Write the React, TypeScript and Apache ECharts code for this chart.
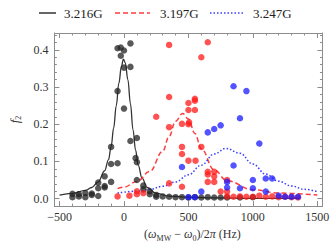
import React, { useEffect, useRef } from "react";
import * as echarts from "echarts";

// ---- data ----
const legendNames = ["3.216G", "3.197G", "3.247G"];

const pts3216: [number, number][] = [
  [-400, 0.013], [-400, 0.004], [-350, 0.012], [-350, 0.006], [-300, 0.015], [-300, 0.004],
  [-250, 0.014], [-250, 0.01], [-200, 0.043], [-200, 0.028], [-200, 0.007], [-150, 0.06],
  [-150, 0.034], [-150, 0.03], [-100, 0.139], [-100, 0.093], [-100, 0.045], [-50, 0.289],
  [-50, 0.404], [-50, 0.095], [-25, 0.406], [-25, 0.384], [0, 0.398], [0, 0.352], [0, 0.242],
  [50, 0.417], [50, 0.354], [50, 0.155], [100, 0.163], [90, 0.109], [100, 0.098], [100, 0.05],
  [150, 0.035], [150, 0.025], [200, 0.02], [200, 0.012], [250, 0.01], [250, 0.005], [300, 0.006],
  [350, 0.005], [400, 0.004], [450, 0.004], [500, 0.003], [550, 0.004], [600, 0.003], [650, 0.004],
  [700, 0.003], [750, 0.003], [800, 0.003], [900, 0.003], [1000, 0.004],
];

const pts3197: [number, number][] = [
  [-50, 0.006], [42, 0.008], [100, 0.012], [100, 0.02], [150, 0.015], [250, 0.22], [350, 0.413],
  [350, 0.273], [350, 0.192], [350, 0.041], [450, 0.201], [450, 0.139], [450, 0.12], [450, 0.032],
  [500, 0.257], [500, 0.238], [500, 0.2], [505, 0.205], [500, 0.102], [550, 0.268], [550, 0.263],
  [550, 0.238], [555, 0.102], [600, 0.38], [600, 0.139], [650, 0.42], [650, 0.072], [650, 0.065],
  [650, 0.045], [700, 0.072], [700, 0.06], [700, 0.045], [750, 0.019], [800, 0.05], [800, 0.019],
  [800, 0.006], [850, 0.005], [900, 0.006], [950, 0.005], [1000, 0.005], [1050, 0.008],
  [1100, 0.005], [1150, 0.006], [1200, 0.004], [1250, 0.005], [1300, 0.004], [1350, 0.003],
];

const pts3247: [number, number][] = [
  [450, 0.085], [500, 0.004], [550, 0.004], [600, 0.019], [650, 0.178], [700, 0.187], [750, 0.197],
  [800, 0.045], [800, 0.03], [850, 0.302], [850, 0.089], [900, 0.216], [900, 0.028], [950, 0.289],
  [1000, 0.05], [1000, 0.028], [1050, 0.148], [1100, 0.054], [1100, 0.019], [1150, 0.054],
  [1200, 0.008], [1250, 0.005], [1300, 0.005], [1350, 0.005],
];

// fitted curves, sampled by eye from the reference
const fit3216: [number, number][] = [
  [-500, 0.0095], [-400, 0.014], [-300, 0.022], [-250, 0.03], [-200, 0.045], [-150, 0.075],
  [-120, 0.105], [-100, 0.14], [-80, 0.19], [-60, 0.25], [-40, 0.31], [-20, 0.355], [-5, 0.375],
  [10, 0.365], [30, 0.32], [50, 0.255], [70, 0.185], [90, 0.13], [110, 0.09], [140, 0.055],
  [180, 0.03], [250, 0.014], [350, 0.007], [500, 0.004], [700, 0.002], [1000, 0.001], [1360, 0.0005],
];

const fit3197: [number, number][] = [
  [-50, 0.027], [0, 0.031], [100, 0.046], [200, 0.073], [300, 0.127], [350, 0.167], [400, 0.208],
  [455, 0.229], [500, 0.214], [550, 0.175], [600, 0.134], [700, 0.077], [800, 0.048], [1000, 0.024],
  [1200, 0.015], [1500, 0.0098],
];

const fit3247: [number, number][] = [
  [-50, 0.015], [100, 0.02], [200, 0.025], [300, 0.033], [400, 0.045], [500, 0.064], [600, 0.09],
  [700, 0.12], [790, 0.135], [900, 0.122], [1000, 0.093], [1100, 0.066], [1200, 0.047],
  [1300, 0.034], [1400, 0.025], [1500, 0.019],
];

const xMajor = [-500, 0, 500, 1000, 1500];
const xMinor = [-500, -400, -300, -200, -100, 0, 100, 200, 300, 400, 500, 600, 700, 800, 900, 1000, 1100, 1200, 1300, 1400, 1500];
const yMajor = [0, 0.1, 0.2, 0.3, 0.4];
const yMinor = [-0.02, 0, 0.02, 0.04, 0.06, 0.08, 0.1, 0.12, 0.14, 0.16, 0.18, 0.2, 0.22, 0.24, 0.26, 0.28, 0.3, 0.32, 0.34, 0.36, 0.38, 0.4, 0.42, 0.44];

const X_MIN = -540;
const X_MAX = 1540;
const Y_MIN = -0.02;
const Y_MAX = 0.445;

const FONT = "'Liberation Serif', 'DejaVu Serif', serif";
const FRAME = "#8c8c8c";

export default function App() {
  const ref = useRef<HTMLDivElement>(null);
  useEffect(() => {
    if (!ref.current) return;
    const chart = echarts.init(ref.current, undefined, { renderer: "svg" });

    const xAx = (pos: "bottom" | "top", values: number[], len: number, labels: boolean, line: boolean) => ({
      type: "value",
      position: pos,
      min: X_MIN,
      max: X_MAX,
      axisLine: { show: line, onZero: false, lineStyle: { color: FRAME, width: 1 } },
      axisTick: { show: true, inside: true, length: len, customValues: values, lineStyle: { color: FRAME, width: 1 } },
      axisLabel: labels
        ? {
            show: true,
            customValues: values,
            fontFamily: FONT,
            fontSize: 12,
            color: "#333",
            margin: 5,
            formatter: (v: number) => (v < 0 ? "\u2212" + Math.abs(v) : String(v)),
          }
        : { show: false },
      splitLine: { show: false },
    });
    const yAx = (pos: "left" | "right", values: number[], len: number, labels: boolean, line: boolean) => ({
      type: "value",
      position: pos,
      min: Y_MIN,
      max: Y_MAX,
      axisLine: { show: line, onZero: false, lineStyle: { color: FRAME, width: 1 } },
      axisTick: { show: true, inside: true, length: len, customValues: values, lineStyle: { color: FRAME, width: 1 } },
      axisLabel: labels
        ? {
            show: true,
            customValues: values,
            fontFamily: FONT,
            fontSize: 12,
            color: "#333",
            margin: 6,
            formatter: (v: number) => v.toFixed(1),
          }
        : { show: false },
      splitLine: { show: false },
    });

    const xAxes: any[] = [
      {
        ...xAx("bottom", xMajor, 5, true, true),
        name: "{p|(}{w|\u03c9}{s|MW}{p| \u2212 }{w|\u03c9}{s|0}{p|)/2}{w|\u03c0}{p| (Hz)}",
        nameLocation: "middle",
        nameGap: 18,
        nameTextStyle: {
          fontFamily: FONT,
          fontSize: 12,
          color: "#333",
          padding: [0, 0, 0, 8],
          rich: {
            p: { fontFamily: FONT, fontSize: 12, color: "#333", lineHeight: 16, verticalAlign: "middle" },
            w: { fontFamily: FONT, fontSize: 12, fontStyle: "italic", color: "#333", lineHeight: 16, verticalAlign: "middle" },
            s: { fontFamily: FONT, fontSize: 8, color: "#333", lineHeight: 16, verticalAlign: "bottom", padding: [6, 0, 0, 0] },
          },
        },
      },
      xAx("bottom", xMinor, 2.5, false, false),
      xAx("top", xMajor, 5, false, true),
      xAx("top", xMinor, 2.5, false, false),
    ];
    const yAxes: any[] = [
      {
        ...yAx("left", yMajor, 5, true, true),
        name: "{f|f}{s|2}",
        nameLocation: "middle",
        nameGap: 26,
        nameRotate: 90,
        nameTextStyle: {
          rich: {
            f: { fontFamily: FONT, fontSize: 13, fontStyle: "italic", color: "#333", lineHeight: 16, verticalAlign: "middle" },
            s: { fontFamily: FONT, fontSize: 8, color: "#333", lineHeight: 16, verticalAlign: "bottom", padding: [5, 0, 0, 0] },
          },
        },
      },
      yAx("left", yMinor, 2.5, false, false),
      yAx("right", yMajor, 5, false, true),
      yAx("right", yMinor, 2.5, false, false),
    ];

    const scatter = (data: [number, number][], color: string) => ({
      type: "scatter",
      data,
      symbol: "circle",
      symbolSize: 6.5,
      itemStyle: { color, opacity: 0.75 },
      z: 3,
      silent: true,
    });
    const curve = (data: [number, number][], color: string, type: any, width: number) => ({
      type: "line",
      data,
      showSymbol: false,
      smooth: 0.4,
      smoothMonotone: "x",
      lineStyle: { color, width, type },
      z: 2,
      silent: true,
    });

    chart.setOption({
      animation: false,
      grid: { left: 38.5, right: 9, top: 33, bottom: 37, containLabel: false },
      xAxis: xAxes,
      yAxis: yAxes,
      series: [
        curve(fit3216, "#333333", "solid", 1.3),
        curve(fit3197, "rgba(255,40,40,0.9)", [5, 3], 1.5),
        curve(fit3247, "rgba(40,40,255,0.9)", [1.5, 2], 1.5),
        scatter(pts3216, "#222222"),
        scatter(pts3197, "#ff1a1a"),
        scatter(pts3247, "#1a1aff"),
      ],
      graphic: [
        { type: "line", shape: { x1: 39, y1: 13, x2: 56, y2: 13 }, style: { stroke: "#333", lineWidth: 1.5 } },
        { type: "text", x: 64, y: 13, style: { text: legendNames[0], font: `13px ${FONT}`, fill: "#222", textVerticalAlign: "middle" } },
        { type: "line", shape: { x1: 115, y1: 13, x2: 150, y2: 13 }, style: { stroke: "rgba(255,40,40,0.9)", lineWidth: 1.5, lineDash: [5, 3] } },
        { type: "text", x: 160, y: 13, style: { text: legendNames[1], font: `13px ${FONT}`, fill: "#222", textVerticalAlign: "middle" } },
        { type: "line", shape: { x1: 210, y1: 13, x2: 245, y2: 13 }, style: { stroke: "rgba(40,40,255,0.9)", lineWidth: 1.5, lineDash: [1.5, 2] } },
        { type: "text", x: 253, y: 13, style: { text: legendNames[2], font: `13px ${FONT}`, fill: "#222", textVerticalAlign: "middle" } },
      ],
    });
    return () => chart.dispose();
  }, []);
  return <div ref={ref} style={{ width: 332, height: 247, position: "absolute", left: 0, top: 0 }} />;
}
